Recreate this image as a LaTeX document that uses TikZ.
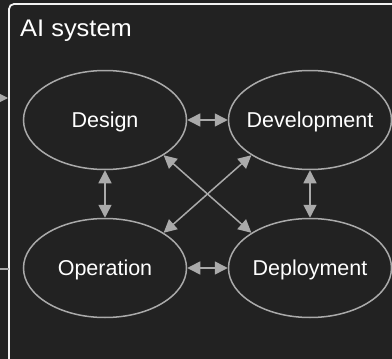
\documentclass[tikz,border=0pt]{standalone}
\usepackage{fontspec}
\setmainfont{Liberation Sans}
\usetikzlibrary{shapes.geometric,arrows.meta}
\definecolor{bg}{HTML}{222222}
\definecolor{edgegray}{HTML}{AAAAAA}
\definecolor{boxwhite}{HTML}{F2F2F2}
\begin{document}
\begin{tikzpicture}[x=1pt,y=-1pt,
  phase/.style={ellipse,draw=edgegray,line width=1.5pt,minimum width=163pt,minimum height=99pt,inner sep=0pt,text=white,text depth=0pt,font=\fontsize{21.5}{24}\selectfont},
  tipa/.tip={Triangle[length=13pt,width=13pt]},
  link/.style={draw=edgegray,line width=1.5pt,tipa-tipa},
  oneway/.style={draw=edgegray,line width=1.5pt,-tipa}]
\fill[bg] (0,0) rectangle (392,359);
\useasboundingbox (0,0) rectangle (392,359);
\draw[boxwhite,line width=1.8pt,rounded corners=5pt] (9,420) -- (9,4) -- (440,4);
\node[anchor=base west,text=white,font=\fontsize{24}{28}\selectfont,inner sep=0pt] (title) at (20,36) {\scalebox{1.06}[1]{AI system}};
\node[phase] (design) at (105,120) {\makebox[0pt]{Design}};
\node[phase] (dev) at (310,120) {\makebox[0pt]{Development}};
\node[phase] (op) at (105,268) {\makebox[0pt]{Operation}};
\node[phase] (dep) at (310,268) {\makebox[0pt]{Deployment}};
\draw[link] (design) -- (dev);
\draw[link] (design) -- (op);
\draw[link] (dev) -- (dep);
\draw[link] (op) -- (dep);
\draw[link] (design.-31) -- (dep.149);
\draw[link] (op.31) -- (dev.-149);
\coordinate (inA) at (-30,98);
\coordinate (inAend) at (8,98);
\coordinate (outB) at (-30,269);
\coordinate (outBend) at (9,269);
\draw[oneway] (inA) -- (inAend);
\draw[draw=edgegray,line width=1.5pt] (outBend) -- (outB);
\end{tikzpicture}
\end{document}
